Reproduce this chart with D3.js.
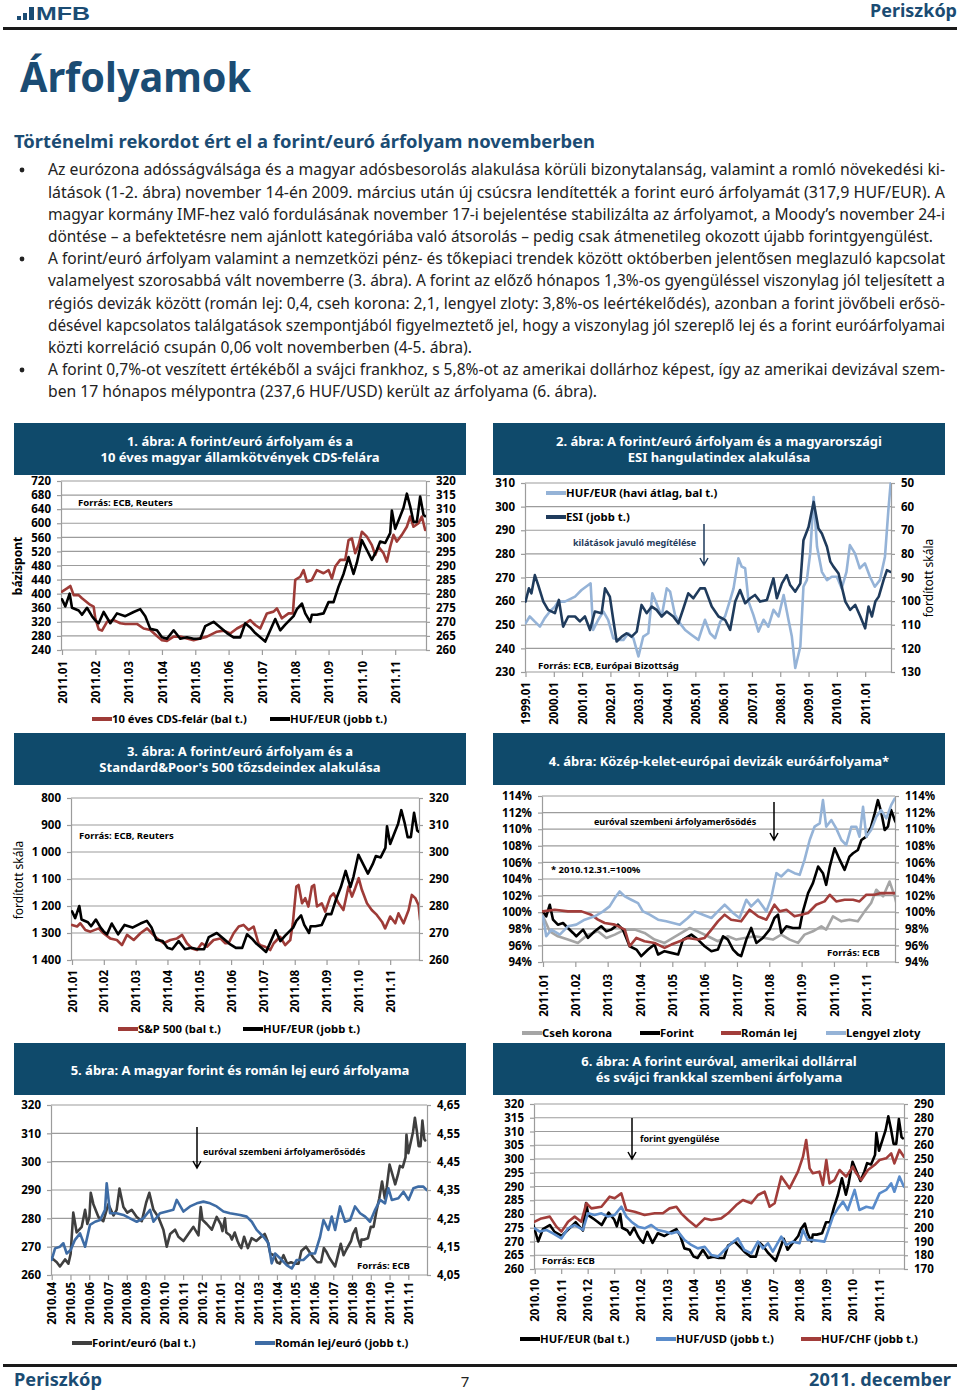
<!DOCTYPE html>
<html><head><meta charset="utf-8">
<script src="https://cdn.jsdelivr.net/npm/d3@7"></script>
<style>
body{margin:0;background:#fff;}
</style></head><body><svg id="page" width="960" height="1394" xmlns="http://www.w3.org/2000/svg"></svg>
<script>
// ---------------- DATA ----------------
// time t = months since 2011-01-01 (t=-9 -> 2010.04, t=10 -> 2011.11)
const hufEurDaily = [
[-9.00,266],[-8.73,264.5],[-8.56,263],[-8.29,265.5],[-8.11,264],[-7.99,267.5],[-7.85,282],[-7.67,275],[-7.40,277],[-7.22,283],[-7.10,278],[-6.99,280.5],[-6.92,289],[-6.78,285],[-6.51,280.5],[-6.25,279],[-5.98,285],[-5.71,281],[-5.54,283],[-5.39,290.5],[-5.18,284],[-4.97,282],[-4.74,283],[-4.47,280.5],[-4.20,279],[-3.97,285.5],[-3.80,289],[-3.58,283],[-3.32,280.5],[-3.05,276],[-2.87,270],[-2.69,274.5],[-2.43,276],[-2.25,273.5],[-1.98,272],[-1.72,274.5],[-1.45,277],[-1.18,274],[-1.06,284],[-0.97,279.5],[-0.74,278],[-0.47,276],[-0.21,280.5],
[0.00,278],[0.10,275.5],[0.23,280],[0.30,275],[0.50,274],[0.60,272.5],[0.75,275],[0.90,272],[1.00,270.5],[1.10,269.5],[1.25,273.5],[1.45,269.5],[1.65,273],[1.90,272],[2.15,273.5],[2.35,274.5],[2.50,272],[2.65,267.5],[2.85,267],[3.00,264.5],[3.15,264],[3.35,267],[3.55,264],[3.75,264.5],[3.95,264],[4.15,264],[4.30,268.5],[4.55,270],[4.70,268.5],[4.95,266],[5.15,264.5],[5.35,264.5],[5.50,269.5],[5.65,268],[5.80,266],[5.95,264.5],[6.10,263],[6.25,267],[6.40,271],[6.55,267],[6.70,269],[6.95,272],[7.05,274.5],[7.20,276.5],[7.30,273],[7.45,270],[7.50,272.5],[7.65,272.5],[7.85,273],[8.00,277],[8.15,277],[8.30,282.5],[8.45,287],[8.60,293],[8.75,287],[8.85,291],[9.00,299],[9.15,295.5],[9.30,292],[9.45,295.5],[9.55,298.5],[9.70,298],[9.85,301.5],[9.90,309.5],[10.00,303],[10.15,307.5],[10.25,310.5],[10.35,315.5],[10.45,311],[10.55,305.5],[10.65,305.5],[10.75,314.5],[10.85,308],[10.90,307.5]
];
const cdsSpread = [
[0.00,406],[0.15,415],[0.25,422],[0.35,396],[0.50,396],[0.60,387],[0.85,368],[0.95,363],[1.00,330],[1.10,299],[1.20,295],[1.35,320],[1.55,325],[1.75,316],[1.90,314],[2.25,314],[2.45,301],[2.65,297],[2.85,280],[3.00,268],[3.15,266],[3.35,278],[3.55,278],[3.75,273],[3.95,268],[4.15,273],[4.35,278],[4.65,292],[4.85,295],[5.05,287],[5.25,301],[5.45,311],[5.65,325],[5.80,311],[5.95,301],[6.15,344],[6.35,349],[6.45,358],[6.60,330],[6.80,344],[6.93,344],[7.00,439],[7.15,448],[7.25,467],[7.35,434],[7.50,439],[7.65,467],[7.85,458],[8.00,467],[8.10,443],[8.20,477],[8.35,496],[8.50,496],[8.60,552],[8.70,557],[8.80,515],[8.90,538],[9.00,576],[9.15,562],[9.30,538],[9.40,510],[9.50,533],[9.65,515],[9.75,491],[9.85,533],[9.95,567],[10.05,548],[10.20,567],[10.35,590],[10.45,619],[10.55,590],[10.70,600],[10.80,619],[10.90,581]
];
const sp500 = [
[0.00,1270],[0.16,1276],[0.26,1264],[0.42,1289],[0.58,1295],[0.84,1283],[0.99,1301],[1.20,1320],[1.41,1326],[1.57,1345],[1.73,1307],[1.94,1326],[2.15,1301],[2.36,1283],[2.51,1301],[2.67,1320],[2.88,1338],[3.09,1326],[3.30,1320],[3.46,1307],[3.61,1338],[3.77,1357],[3.93,1363],[4.08,1338],[4.24,1351],[4.45,1326],[4.66,1320],[4.82,1338],[4.92,1338],[5.08,1301],[5.24,1276],[5.39,1270],[5.55,1289],[5.71,1276],[5.86,1338],[5.92,1345],[6.07,1351],[6.23,1363],[6.34,1338],[6.54,1314],[6.70,1345],[6.86,1326],[6.94,1264],[7.05,1128],[7.12,1122],[7.23,1190],[7.33,1171],[7.43,1202],[7.54,1128],[7.61,1122],[7.70,1202],[7.85,1190],[7.96,1221],[8.12,1165],[8.22,1153],[8.38,1190],[8.53,1215],[8.69,1128],[8.80,1165],[8.90,1134],[9.01,1097],[9.11,1140],[9.27,1190],[9.42,1215],[9.58,1233],[9.74,1258],[9.84,1283],[10.00,1239],[10.16,1264],[10.26,1227],[10.42,1264],[10.58,1215],[10.68,1159],[10.79,1171],[10.89,1196],[10.94,1252]
];
const czkIndex = [
[0.00,99.5],[0.21,97.7],[0.46,97.1],[0.77,96.7],[1.08,96.3],[1.39,97.3],[1.70,97.7],[1.96,96.9],[2.22,97.3],[2.53,97.9],[2.84,97.9],[3.14,97.5],[3.45,96.7],[3.76,96.3],[4.02,96.9],[4.28,97.5],[4.54,98.1],[4.79,97.7],[5.10,97.1],[5.41,96.5],[5.72,97.1],[5.98,96.7],[6.24,96.9],[6.55,97.1],[6.86,96.9],[7.11,96.7],[7.37,97.3],[7.63,96.7],[7.89,96.3],[8.09,97.3],[8.35,97.7],[8.61,98.3],[8.76,97.9],[8.97,99.5],[9.23,98.9],[9.48,99.1],[9.74,98.9],[9.95,100.1],[10.15,101.1],[10.31,102.7],[10.52,101.9],[10.72,103.7],[10.88,101.9],[10.93,101.1]
];
const hufIndex = [
[0.00,100.1],[0.10,99.5],[0.21,100.9],[0.31,99.1],[0.46,98.5],[0.62,98.7],[0.77,98.1],[0.93,97.5],[1.03,97.1],[1.24,97.9],[1.39,96.9],[1.60,97.7],[1.80,98.3],[1.96,97.7],[2.11,97.9],[2.32,98.5],[2.47,97.9],[2.68,95.9],[2.89,95.5],[3.04,94.7],[3.25,95.5],[3.45,96.1],[3.56,94.9],[3.76,95.3],[3.97,95.1],[4.18,94.9],[4.33,96.7],[4.59,97.3],[4.79,96.7],[5.00,95.9],[5.21,95.3],[5.41,95.5],[5.57,97.1],[5.72,96.7],[5.88,95.5],[6.03,94.9],[6.13,94.7],[6.29,96.7],[6.44,98.1],[6.60,96.3],[6.80,96.9],[7.01,97.9],[7.16,99.3],[7.27,99.7],[7.37,97.5],[7.53,98.3],[7.73,98.1],[7.94,98.1],[8.04,100.1],[8.20,102.3],[8.35,103.5],[8.51,105.5],[8.66,104.7],[8.76,103.3],[8.87,105.5],[9.02,107.7],[9.18,106.3],[9.33,105.1],[9.48,106.7],[9.59,107.1],[9.74,107.5],[9.85,108.7],[10.00,109.1],[10.15,110.3],[10.26,111.9],[10.36,113.5],[10.46,112.1],[10.57,109.9],[10.67,110.3],[10.77,112.3],[10.88,111.1],[10.93,110.7]
];
const ronIndex = [
[0.00,100.1],[0.36,100.3],[0.77,100.1],[1.19,100.1],[1.49,99.7],[1.70,99.1],[1.91,98.7],[2.22,98.5],[2.53,97.9],[2.68,95.9],[2.89,96.9],[3.14,96.5],[3.45,96.3],[3.76,95.7],[3.97,96.1],[4.23,96.5],[4.48,96.9],[4.79,96.7],[5.00,96.9],[5.21,97.9],[5.41,98.9],[5.62,99.7],[5.82,99.1],[6.13,98.9],[6.39,100.3],[6.65,99.5],[6.91,99.1],[7.16,100.9],[7.32,100.1],[7.53,100.3],[7.78,99.5],[7.99,99.7],[8.20,99.9],[8.45,100.9],[8.71,101.3],[8.87,102.1],[9.07,101.3],[9.33,101.5],[9.59,101.5],[9.79,101.3],[10.00,102.1],[10.26,102.1],[10.46,102.3],[10.67,102.3],[10.93,102.3]
];
const plnIndex = [
[0.00,99.5],[0.10,97.1],[0.26,97.9],[0.52,97.3],[0.77,98.3],[1.03,98.5],[1.29,99.1],[1.60,99.5],[1.86,100.1],[2.06,100.7],[2.22,101.7],[2.37,102.5],[2.53,101.9],[2.73,101.5],[2.94,101.1],[3.09,100.1],[3.30,99.7],[3.56,99.1],[3.81,98.9],[4.02,98.7],[4.23,98.5],[4.48,99.3],[4.69,100.1],[4.95,99.7],[5.21,99.3],[5.41,100.1],[5.62,100.9],[5.88,99.9],[6.08,99.3],[6.29,101.5],[6.44,100.7],[6.65,101.5],[6.91,100.1],[7.06,101.7],[7.22,104.7],[7.37,104.3],[7.58,105.1],[7.78,104.7],[7.94,104.5],[8.09,106.3],[8.25,108.7],[8.40,110.3],[8.56,110.7],[8.66,113.5],[8.76,110.3],[8.92,111.1],[9.07,110.1],[9.23,108.7],[9.38,108.1],[9.54,110.3],[9.69,110.3],[9.79,109.1],[9.90,112.7],[10.00,109.1],[10.15,109.9],[10.31,111.5],[10.46,112.3],[10.62,111.3],[10.77,112.9],[10.88,113.7],[10.93,113.7]
];
const ronEur = [
[-9.00,4.103],[-8.82,4.144],[-8.56,4.150],[-8.38,4.162],[-8.20,4.126],[-7.99,4.138],[-7.76,4.174],[-7.49,4.197],[-7.22,4.150],[-6.96,4.227],[-6.69,4.238],[-6.42,4.244],[-6.16,4.280],[-6.07,4.374],[-5.89,4.268],[-5.54,4.268],[-5.18,4.262],[-4.83,4.250],[-4.47,4.238],[-4.12,4.250],[-3.76,4.280],[-3.58,4.238],[-3.23,4.268],[-2.87,4.274],[-2.52,4.280],[-2.34,4.315],[-1.98,4.274],[-1.63,4.292],[-1.27,4.303],[-0.92,4.309],[-0.56,4.303],[-0.21,4.292],[0.15,4.274],[0.50,4.268],[1.04,4.262],[1.39,4.256],[1.66,4.238],[1.92,4.209],[2.28,4.185],[2.55,4.162],[2.72,4.091],[2.90,4.126],[3.17,4.109],[3.52,4.085],[3.79,4.073],[4.05,4.103],[4.41,4.103],[4.77,4.126],[5.03,4.126],[5.30,4.185],[5.48,4.244],[5.74,4.209],[5.92,4.256],[6.10,4.209],[6.36,4.292],[6.63,4.238],[6.90,4.244],[7.16,4.292],[7.43,4.268],[7.70,4.256],[7.96,4.238],[8.23,4.280],[8.50,4.315],[8.76,4.303],[8.94,4.356],[9.12,4.315],[9.47,4.321],[9.74,4.344],[10.01,4.315],[10.27,4.356],[10.54,4.362],[10.80,4.362],[10.98,4.350]
];
const hufUsd = [
[-3.00,199.6],[-2.81,197.2],[-2.56,198.4],[-2.31,195.9],[-1.99,192.3],[-1.74,199.6],[-1.49,202],[-1.18,198.4],[-0.99,210.5],[-0.74,209.3],[-0.48,210.5],[-0.23,208.1],[0.02,209.3],[0.27,215.3],[0.46,208.1],[0.65,204.4],[0.90,200.8],[1.15,199.6],[1.40,202],[1.65,198.4],[1.91,197.2],[2.16,195.9],[2.41,197.2],[2.66,191.1],[2.91,187.5],[3.16,185],[3.42,186.2],[3.67,180.2],[3.92,179],[4.17,183.8],[4.42,188.7],[4.67,192.3],[4.92,183.8],[5.18,181.4],[5.43,189.9],[5.62,185],[5.81,188.7],[5.99,182.6],[6.31,193.5],[6.50,187.5],[6.75,189.9],[7.00,188.7],[7.13,198.4],[7.31,191.1],[7.50,191.1],[7.94,189.9],[8.07,197.2],[8.26,208.1],[8.45,214.1],[8.64,219],[8.82,212.9],[9.08,227.5],[9.26,212.9],[9.52,215.3],[9.77,214.1],[10.02,225],[10.27,227.5],[10.46,232.3],[10.58,226.2],[10.77,237.2],[10.94,229.9]
];
const hufChf = [
[-3.00,204.4],[-2.75,206.8],[-2.43,208.1],[-2.18,200.8],[-1.99,197.2],[-1.74,204.4],[-1.49,208.1],[-1.24,204.4],[-1.05,217.8],[-0.86,214.1],[-0.48,215.3],[-0.17,222.6],[0.02,221.4],[0.27,225],[0.46,212.9],[0.77,211.7],[1.15,209.3],[1.53,210.5],[1.84,210.5],[2.09,214.1],[2.35,215.3],[2.53,210.5],[2.79,205.6],[3.10,200.8],[3.42,206.8],[3.67,205.6],[4.04,206.8],[4.30,210.5],[4.61,216.5],[4.86,220.2],[5.18,217.8],[5.43,223.8],[5.68,226.2],[5.87,215.3],[6.06,217.8],[6.31,237.2],[6.62,228.7],[6.94,240.8],[7.13,251.7],[7.25,263.8],[7.38,243.2],[7.50,239.6],[7.75,240.8],[7.88,231.1],[8.01,249.3],[8.13,232.3],[8.32,234.7],[8.51,242],[8.76,237.2],[9.01,244.4],[9.14,239.6],[9.33,234.7],[9.58,242],[9.83,245.6],[10.02,249.3],[10.27,250.5],[10.46,254.1],[10.58,246.8],[10.77,256.6],[10.94,251.7]
];
// chart 2: decimal years
const hufEurMonthly = [
[1999.00,250.6],[1999.15,253.5],[1999.33,251.3],[1999.51,249.2],[1999.68,252.8],[1999.86,255.6],[2000.04,257.7],[2000.16,259.8],[2000.39,259.8],[2000.75,261.9],[2000.98,264.7],[2001.22,266.8],[2001.30,267.5],[2001.39,247.8],[2001.57,252.1],[2001.75,255.6],[2001.92,252.1],[2002.10,244.3],[2002.28,243.6],[2002.46,243.6],[2002.63,246.4],[2002.81,244.3],[2002.99,236.6],[2003.16,245],[2003.34,246.4],[2003.48,263.3],[2003.58,260.5],[2003.81,253.5],[2003.99,265.4],[2004.11,264],[2004.28,254.2],[2004.46,250.6],[2004.64,247.8],[2004.87,245.7],[2005.11,243.6],[2005.34,252.1],[2005.52,246.4],[2005.70,244.3],[2005.88,251.3],[2006.05,253.5],[2006.23,260.5],[2006.35,265.4],[2006.52,278.1],[2006.64,274.6],[2006.76,273.9],[2006.88,259.8],[2007.05,254.2],[2007.23,247.1],[2007.41,252.1],[2007.58,249.2],[2007.76,256.3],[2007.94,253.5],[2008.12,262.6],[2008.29,252.1],[2008.41,245],[2008.53,231.7],[2008.71,240.8],[2008.82,266.1],[2008.94,268.9],[2009.06,280.5],[2009.18,304.1],[2009.30,283],[2009.47,272.4],[2009.65,268.9],[2009.82,270.3],[2010.00,270.3],[2010.17,265.4],[2010.34,272.4],[2010.46,283.7],[2010.64,280.2],[2010.81,273.9],[2010.99,276],[2011.17,270.3],[2011.34,266.1],[2011.52,268.9],[2011.70,278.8],[2011.82,298.5],[2011.90,309.8]
];
const esiIndex = [
[1999.00,100.2],[1999.12,94.6],[1999.21,96.7],[1999.33,89],[1999.45,93.2],[1999.63,100.2],[1999.80,103.7],[2000.04,105.1],[2000.18,99.5],[2000.33,110.8],[2000.51,106.5],[2000.75,106.5],[2000.92,108.6],[2001.10,106.5],[2001.28,112.2],[2001.45,104.4],[2001.69,105.1],[2001.81,94.6],[2001.98,98.1],[2002.10,107.9],[2002.22,117.1],[2002.40,115],[2002.57,113.6],[2002.75,115],[2002.93,112.9],[2003.10,101.6],[2003.28,105.1],[2003.46,102.3],[2003.63,103.7],[2003.81,106.5],[2003.99,104.4],[2004.22,106.5],[2004.40,109.4],[2004.58,103],[2004.75,96.7],[2004.93,98.8],[2005.17,94.6],[2005.34,94.6],[2005.58,102.3],[2005.82,106.5],[2006.05,107.9],[2006.23,112.2],[2006.41,100.2],[2006.58,95.3],[2006.76,100.9],[2006.94,98.8],[2007.11,97.4],[2007.29,100.2],[2007.53,99.5],[2007.76,90.4],[2007.88,98.8],[2008.06,92.5],[2008.23,89],[2008.35,93.2],[2008.53,96],[2008.71,92.5],[2008.82,74.2],[2009.00,68.6],[2009.18,58],[2009.35,69.3],[2009.47,71.4],[2009.65,77],[2009.77,83.3],[2009.88,85.4],[2010.06,88.3],[2010.30,100.2],[2010.47,103.7],[2010.65,101.6],[2010.83,106.5],[2011.00,111.5],[2011.12,102.3],[2011.24,106.5],[2011.36,100.2],[2011.48,98.1],[2011.65,91.1],[2011.77,86.9],[2011.89,87.6]
];

// tick labels
const months2011 = ["2011.01","2011.02","2011.03","2011.04","2011.05","2011.06","2011.07","2011.08","2011.09","2011.10","2011.11"];
const months5 = ["2010.04","2010.05","2010.06","2010.07","2010.08","2010.09","2010.10","2010.11","2010.12","2011.01","2011.02","2011.03","2011.04","2011.05","2011.06","2011.07","2011.08","2011.09","2011.10","2011.11"];
const months6 = ["2010.10","2010.11","2010.12","2011.01","2011.02","2011.03","2011.04","2011.05","2011.06","2011.07","2011.08","2011.09","2011.10","2011.11"];
const years2 = ["1999.01","2000.01","2001.01","2002.01","2003.01","2004.01","2005.01","2006.01","2007.01","2008.01","2009.01","2010.01","2011.01"];
const c1Left = [240,280,320,360,400,440,480,520,560,600,640,680,720];
const c1Right = [260,265,270,275,280,285,290,295,300,305,310,315,320];
const c2Left = [230,240,250,260,270,280,290,300,310];
const c2Right = [50,60,70,80,90,100,110,120,130];
const c3Left = [800,900,1000,1100,1200,1300,1400];
const c3Right = [260,270,280,290,300,310,320];
const c4Ticks = [94,96,98,100,102,104,106,108,110,112,114];
const c5Left = [260,270,280,290,300,310,320];
const c5Right = [4.05,4.15,4.25,4.35,4.45,4.55,4.65];
const c6Left = [260,265,270,275,280,285,290,295,300,305,310,315,320];
const c6Right = [170,180,190,200,210,220,230,240,250,260,270,280,290];

// ---------------- DRAWING ----------------
const FONT = '"Noto Sans","DejaVu Sans",sans-serif';
const BLUE = "#1b4c73";
const TITLE_BG = "#0f4a6b";
const GRID = "#9c9c9c";
const svg = d3.select("#page");
svg.append("rect").attr("width",960).attr("height",1394).attr("fill","#fff");

function txt(x, y, s, o = {}) {
  const t = svg.append("text").attr("x", x).attr("y", y).text(s)
    .attr("font-family", o.family || FONT).attr("font-size", o.size || 12)
    .attr("font-weight", o.weight || "normal").attr("fill", o.fill || "#000")
    .attr("text-anchor", o.anchor || "start");
  if (o.len) t.attr("textLength", o.len).attr("lengthAdjust", "spacingAndGlyphs");
  return t;
}

// header
[[17,16,4,4],[23,13,4,7],[29,7,5,13]].forEach(b => svg.append("rect").attr("x",b[0]).attr("y",b[1]).attr("width",b[2]).attr("height",b[3]).attr("fill",BLUE));
txt(36, 20, "MFB", {size: 18.5, weight: "bold", fill: BLUE, family: '"Liberation Sans",Arial,sans-serif', len: 54});
txt(957, 17, "Periszkóp", {size: 17, weight: "bold", fill: BLUE, anchor: "end", len: 87});
svg.append("rect").attr("x",3).attr("y",27).attr("width",954).attr("height",3).attr("fill","#1a1a1a");
txt(20, 92, "Árfolyamok", {size: 42, weight: "bold", fill: BLUE, len: 231});
txt(14, 148, "Történelmi rekordot ért el a forint/euró árfolyam novemberben", {size: 17, weight: "bold", fill: BLUE, len: 581});

const bodyLines = [
  ["Az eurózona adósságválsága és a magyar adósbesorolás alakulása körüli bizonytalanság, valamint a romló növekedési ki-", 175, 897, true],
  ["látások (1-2. ábra) november 14-én 2009. március után új csúcsra lendítették a forint euró árfolyamát (317,9 HUF/EUR). A", 198, 897, false],
  ["magyar kormány IMF-hez való fordulásának november 17-i bejelentése stabilizálta az árfolyamot, a Moody’s november 24-i", 220, 897, false],
  ["döntése – a befektetésre nem ajánlott kategóriába való átsorolás – pedig csak átmenetileg okozott újabb forintgyengülést.", 242, 885, false],
  ["A forint/euró árfolyam valamint a nemzetközi pénz- és tőkepiaci trendek között októberben jelentősen meglazuló kapcsolat", 264, 897, true],
  ["valamelyest szorosabbá vált novemberre (3. ábra). A forint az előző hónapos 1,3%-os gyengüléssel viszonylag jól teljesített a", 286, 897, false],
  ["régiós devizák között (román lej: 0,4, cseh korona: 2,1, lengyel zloty: 3,8%-os leértékelődés), azonban a forint jövőbeli erősö-", 309, 897, false],
  ["désével kapcsolatos találgatások szempontjából figyelmeztető jel, hogy a viszonylag jól szereplő lej és a forint euróárfolyamai", 331, 897, false],
  ["közti korreláció csupán 0,06 volt novemberben (4-5. ábra).", 353, 424, false],
  ["A forint 0,7%-ot veszített értékéből a svájci frankhoz, s 5,8%-ot az amerikai dollárhoz képest, így az amerikai devizával szem-", 375, 897, true],
  ["ben 17 hónapos mélypontra (237,6 HUF/USD) került az árfolyama (6. ábra).", 397, 549, false]
];
bodyLines.forEach(l => {
  txt(48, l[1], l[0], {size: 15.5, fill: "#222", len: l[2]});
  if (l[3]) svg.append("circle").attr("cx", 22).attr("cy", l[1] - 5).attr("r", 2.4).attr("fill", "#222");
});

// footer
svg.append("rect").attr("x",3).attr("y",1364).attr("width",954).attr("height",3).attr("fill","#1a1a1a");
txt(14, 1386, "Periszkóp", {size: 17, weight: "bold", fill: BLUE, len: 88});
txt(465, 1387, "7", {size: 15, fill: "#222", anchor: "middle"});
txt(951, 1386, "2011. december", {size: 17, weight: "bold", fill: BLUE, anchor: "end", len: 142});

function titleBox(x, y, w, h, lines, ys) {
  svg.append("rect").attr("x", x).attr("y", y).attr("width", w).attr("height", h).attr("fill", TITLE_BG);
  lines.forEach((l, i) => txt(x + w / 2, ys[i], l, {size: 13, weight: "bold", fill: "#fff", anchor: "middle"}));
}

function arrow(x, y1, y2, color) {
  svg.append("path").attr("d", `M${x},${y1}L${x},${y2}M${x-4},${y2-7}L${x},${y2}L${x+4},${y2-7}`)
    .attr("fill", "none").attr("stroke", color || "#000").attr("stroke-width", 1.5);
}

function legend(items, y) {
  items.forEach(it => {
    svg.append("line").attr("x1", it.x).attr("x2", it.x + 20).attr("y1", y).attr("y2", y)
      .attr("stroke", it.color).attr("stroke-width", 4);
    txt(it.x + 20, y + 4, it.label, {size: 11.3, weight: "bold"});
  });
}

let clipN = 0;
function drawChart(c) {
  const g = svg.append("g");
  const x = d3.scaleLinear().domain(c.xDomain).range(c.xRange);
  const yL = d3.scaleLinear().domain(c.left.domain).range(c.left.rev ? [c.py0, c.py1] : [c.py1, c.py0]);
  const yR = d3.scaleLinear().domain(c.right.domain).range(c.right.rev ? [c.py0, c.py1] : [c.py1, c.py0]);
  const id = "clip" + (clipN++);
  svg.append("clipPath").attr("id", id).append("rect")
    .attr("x", c.px0).attr("y", c.py0 - 4).attr("width", c.px1 - c.px0).attr("height", c.py1 - c.py0 + 8);
  g.append("g").selectAll("line").data(c.left.ticks).join("line")
    .attr("x1", c.px0).attr("x2", c.px1).attr("y1", d => yL(d)).attr("y2", d => yL(d))
    .attr("stroke", GRID).attr("stroke-width", 1.2);
  const style = sel => {
    sel.select(".domain").attr("stroke", GRID).attr("stroke-width", 1.2);
    sel.selectAll(".tick line").attr("stroke", GRID).attr("stroke-width", 1.2);
    sel.selectAll("text").attr("font-family", FONT).attr("font-weight", "bold").attr("font-size", 11.5).attr("fill", "#000");
  };
  g.append("g").attr("transform", `translate(${c.px0},0)`)
    .call(d3.axisLeft(yL).tickValues(c.left.ticks).tickFormat(c.left.fmt || (d => d)).tickSize(4).tickSizeOuter(0).tickPadding(6)).call(style);
  g.append("g").attr("transform", `translate(${c.px1},0)`)
    .call(d3.axisRight(yR).tickValues(c.right.ticks).tickFormat(c.right.fmt || (d => d)).tickSize(4).tickSizeOuter(0).tickPadding(6)).call(style);
  const xa = g.append("g").attr("transform", `translate(0,${c.py1})`)
    .call(d3.axisBottom(x).tickValues(c.xTicks).tickFormat((d, i) => c.xLabels[i]).tickSize(5).tickSizeOuter(0)).call(style);
  xa.select(".domain").remove();
  xa.selectAll("text").attr("transform", "rotate(-90)").attr("text-anchor", "end")
    .attr("x", -(c.xGap || 10)).attr("y", 0).attr("dy", "0.36em");
  const lg = g.append("g").attr("clip-path", `url(#${id})`);
  c.series.forEach(s => {
    const ys = s.axis === "right" ? yR : yL;
    const line = d3.line().x(d => x(d[0])).y(d => ys(d[1]));
    lg.append("path").datum(s.data.filter(d => d[0] >= c.xDomain[0] - 0.1))
      .attr("d", line).attr("fill", "none").attr("stroke", s.color)
      .attr("stroke-width", s.width || 2.6).attr("stroke-linejoin", "round").attr("stroke-linecap", "round");
  });
}

const idx = arr => arr.map((d, i) => i);

// ---- Chart 1
titleBox(14, 423, 452, 52, ["1. ábra: A forint/euró árfolyam és a", "10 éves magyar államkötvények CDS-felára"], [446, 462]);
drawChart({
  px0: 61, px1: 426, py0: 481, py1: 650,
  xDomain: [0, 11], xRange: [62, 428.5],
  xTicks: idx(months2011), xLabels: months2011, xGap: 11,
  left: {domain: [240, 720], ticks: c1Left},
  right: {domain: [260, 320], ticks: c1Right},
  series: [
    {data: cdsSpread, color: "#9e3b37"},
    {data: hufEurDaily, color: "#000", axis: "right"}
  ]
});
svg.append("text").attr("transform", "translate(22,566) rotate(-90)").attr("text-anchor", "middle")
  .attr("font-family", FONT).attr("font-size", 12).attr("font-weight", "bold").text("bázispont");
txt(78, 506, "Forrás: ECB, Reuters", {size: 9.5, weight: "bold"});
legend([{x: 92, color: "#9e3b37", label: "10 éves CDS-felár (bal t.)"}, {x: 270, color: "#000", label: "HUF/EUR (jobb t.)"}], 719);

// ---- Chart 2
titleBox(493, 423, 452, 52, ["2. ábra: A forint/euró árfolyam és a magyarországi", "ESI hangulatindex alakulása"], [446, 462]);
drawChart({
  px0: 525, px1: 891, py0: 483, py1: 672,
  xDomain: [1999, 2011.92], xRange: [525.5, 891.2],
  xTicks: years2.map(s => +s.slice(0, 4)), xLabels: years2, xGap: 10,
  left: {domain: [230, 310], ticks: c2Left},
  right: {domain: [50, 130], ticks: c2Right, rev: true},
  series: [
    {data: hufEurMonthly, color: "#95b3d7"},
    {data: esiIndex, color: "#1f3b5c", axis: "right"}
  ]
});
svg.append("text").attr("transform", "translate(933,578) rotate(-90)").attr("text-anchor", "middle")
  .attr("font-family", FONT).attr("font-size", 12).text("fordított skála");
legend([{x: 546, color: "#95b3d7", label: "HUF/EUR (havi átlag, bal t.)"}], 493);
legend([{x: 546, color: "#1f3b5c", label: "ESI (jobb t.)"}], 517);
txt(573, 546, "kilátások javuló megítélése", {size: 9, weight: "bold", fill: "#1f3b5c"});
arrow(704, 524, 565, "#1f3b5c");
txt(538, 669, "Forrás: ECB, Európai Bizottság", {size: 9.5, weight: "bold"});

// ---- Chart 3
titleBox(14, 733, 452, 52, ["3. ábra: A forint/euró árfolyam és a", "Standard&Poor's 500 tőzsdeindex alakulása"], [756, 772]);
drawChart({
  px0: 71, px1: 419, py0: 798, py1: 960,
  xDomain: [0, 11], xRange: [72, 422],
  xTicks: idx(months2011), xLabels: months2011, xGap: 10,
  left: {domain: [800, 1400], ticks: c3Left, rev: true, fmt: d => d3.format(",")(d).replace(",", " ")},
  right: {domain: [260, 320], ticks: c3Right},
  series: [
    {data: sp500, color: "#9e3b37"},
    {data: hufEurDaily, color: "#000", axis: "right"}
  ]
});
svg.append("text").attr("transform", "translate(23,880) rotate(-90)").attr("text-anchor", "middle")
  .attr("font-family", FONT).attr("font-size", 12).text("fordított skála");
txt(79, 839, "Forrás: ECB, Reuters", {size: 9.5, weight: "bold"});
legend([{x: 118, color: "#9e3b37", label: "S&P 500 (bal t.)"}, {x: 243, color: "#000", label: "HUF/EUR (jobb t.)"}], 1029);

// ---- Chart 4
titleBox(493, 733, 452, 52, ["4. ábra:  Közép-kelet-európai devizák euróárfolyama*"], [766]);
drawChart({
  px0: 542, px1: 895, py0: 796, py1: 962,
  xDomain: [0, 11], xRange: [543, 898.6],
  xTicks: idx(months2011), xLabels: months2011, xGap: 12,
  left: {domain: [94, 114], ticks: c4Ticks, fmt: d => d + "%"},
  right: {domain: [94, 114], ticks: c4Ticks, fmt: d => d + "%"},
  series: [
    {data: czkIndex, color: "#a5a5a5"},
    {data: hufIndex, color: "#000"},
    {data: ronIndex, color: "#a23d3a"},
    {data: plnIndex, color: "#95b3d7"}
  ]
});
txt(594, 825, "euróval szembeni árfolyamerősödés", {size: 9, weight: "bold"});
arrow(774, 802, 840);
txt(551, 873, "* 2010.12.31.=100%", {size: 9.5, weight: "bold"});
txt(827, 956, "Forrás: ECB", {size: 9.5, weight: "bold"});
legend([{x: 522, color: "#a5a5a5", label: "Cseh korona"}, {x: 640, color: "#000", label: "Forint"},
        {x: 721, color: "#a23d3a", label: "Román lej"}, {x: 826, color: "#95b3d7", label: "Lengyel zloty"}], 1033);

// ---- Chart 5
titleBox(14, 1043, 452, 52, ["5. ábra:  A magyar forint és román lej euró árfolyama"], [1075]);
drawChart({
  px0: 51, px1: 427, py0: 1105, py1: 1275,
  xDomain: [-9, 11], xRange: [51.7, 427.1],
  xTicks: months5.map((m, i) => i - 9), xLabels: months5, xGap: 7,
  left: {domain: [260, 320], ticks: c5Left},
  right: {domain: [4.05, 4.65], ticks: c5Right, fmt: d => d3.format(".2f")(d).replace(".", ",")},
  series: [
    {data: hufEurDaily, color: "#3f3f3f"},
    {data: ronEur, color: "#3e6ca5", axis: "right"}
  ]
});
txt(203, 1155, "euróval szembeni árfolyamerősödés", {size: 9, weight: "bold"});
arrow(197, 1127, 1168);
txt(357, 1269, "Forrás: ECB", {size: 9.5, weight: "bold"});
legend([{x: 72, color: "#3f3f3f", label: "Forint/euró (bal t.)"}, {x: 255, color: "#3e6ca5", label: "Román lej/euró (jobb t.)"}], 1343);

// ---- Chart 6
titleBox(493, 1043, 452, 52, ["6. ábra: A forint euróval, amerikai dollárral", "és svájci frankkal  szembeni árfolyama"], [1066, 1082]);
drawChart({
  px0: 534, px1: 904, py0: 1104, py1: 1269,
  xDomain: [-3, 11], xRange: [534.7, 905.5],
  xTicks: months6.map((m, i) => i - 3), xLabels: months6, xGap: 10,
  left: {domain: [260, 320], ticks: c6Left},
  right: {domain: [170, 290], ticks: c6Right},
  series: [
    {data: hufEurDaily, color: "#000"},
    {data: hufUsd, color: "#5a8ccb", axis: "right"},
    {data: hufChf, color: "#a23d3a", axis: "right"}
  ]
});
txt(640, 1142, "forint gyengülése", {size: 9, weight: "bold"});
arrow(632, 1118, 1159);
txt(542, 1264, "Forrás: ECB", {size: 9.5, weight: "bold"});
legend([{x: 520, color: "#000", label: "HUF/EUR (bal t.)"}, {x: 656, color: "#5a8ccb", label: "HUF/USD (jobb t.)"},
        {x: 801, color: "#a23d3a", label: "HUF/CHF (jobb t.)"}], 1339);
</script></body></html>
